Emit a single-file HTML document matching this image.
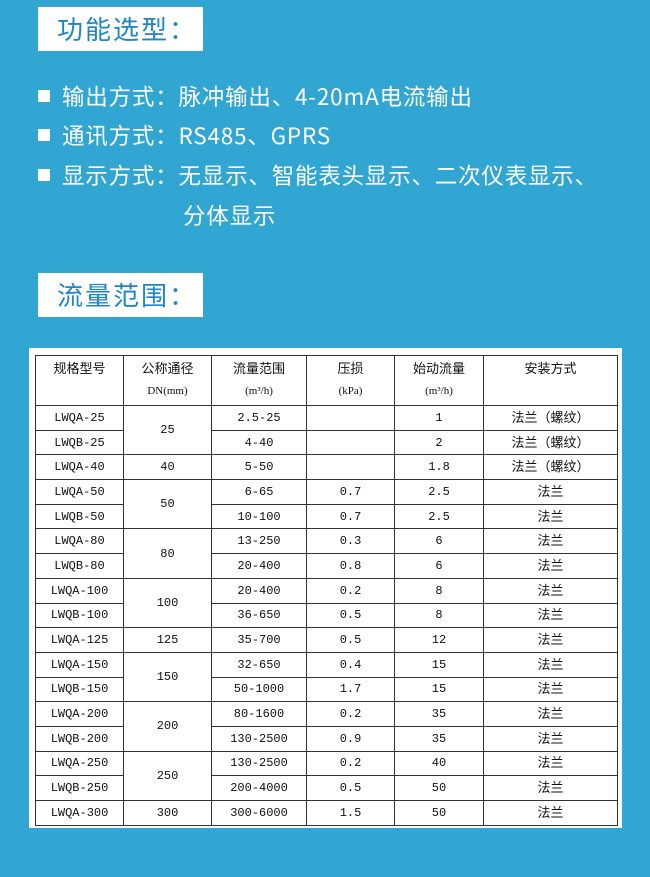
<!DOCTYPE html>
<html><head><meta charset="utf-8"><style>
*{margin:0;padding:0;box-sizing:border-box}
body{width:650px;height:877px;background:#31a6d3;position:relative;overflow:hidden;font-family:"Noto Sans CJK SC","Liberation Sans",sans-serif}
.tt{position:absolute;left:38px;width:165px;height:44px;background:#fff;color:#1c86c6;font-size:26px;line-height:44px;padding-left:19px;letter-spacing:2px}
.li{position:absolute;left:38px;color:#fff;font-size:22.5px;line-height:26px;white-space:nowrap;letter-spacing:0.8px}
.li i{display:inline-block;width:12px;height:12px;background:#fff;margin-right:12px;vertical-align:3px}
.panel{position:absolute;left:29px;top:348px;width:593px;height:480px;background:#fff}
table{position:absolute;left:35px;top:355px;border-collapse:collapse;font-family:"Liberation Mono","Noto Serif CJK SC",serif;font-size:12px;color:#111}
td{border:1.5px solid #333;text-align:center;height:24.7px;padding:0;line-height:14px}
.h td{height:50px;vertical-align:top;padding-top:6px;font-family:"Liberation Sans","Noto Sans CJK SC",sans-serif;font-size:13px}
.h td small{display:block;font-family:"Liberation Serif","Noto Serif CJK SC",serif;font-size:11px;margin-top:8px}
.c{font-family:"Liberation Sans","Noto Sans CJK SC",sans-serif;font-size:13px}
</style></head><body>
<div class="tt" style="top:7px">功能选型：</div>
<div class="li" style="top:83px"><i></i>输出方式：脉冲输出、4-20mA电流输出</div>
<div class="li" style="top:122px"><i></i>通讯方式：RS485、GPRS</div>
<div class="li" style="top:162px"><i></i>显示方式：无显示、智能表头显示、二次仪表显示、</div>
<div class="li" style="top:202px;left:183px">分体显示</div>
<div class="tt" style="top:273px">流量范围：</div>
<div class="panel"></div>
<table>
<colgroup><col style="width:88px"><col style="width:88px"><col style="width:95px"><col style="width:88px"><col style="width:89px"><col style="width:134px"></colgroup>
<tr class="h"><td>规格型号</td><td>公称通径<small>DN(mm)</small></td><td>流量范围<small>(m³/h)</small></td><td>压损<small>(kPa)</small></td><td>始动流量<small>(m³/h)</small></td><td>安装方式</td></tr>
<tr><td>LWQA-25</td><td rowspan="2">25</td><td>2.5-25</td><td></td><td>1</td><td class="c">法兰（螺纹）</td></tr>
<tr><td>LWQB-25</td><td>4-40</td><td></td><td>2</td><td class="c">法兰（螺纹）</td></tr>
<tr><td>LWQA-40</td><td>40</td><td>5-50</td><td></td><td>1.8</td><td class="c">法兰（螺纹）</td></tr>
<tr><td>LWQA-50</td><td rowspan="2">50</td><td>6-65</td><td>0.7</td><td>2.5</td><td class="c">法兰</td></tr>
<tr><td>LWQB-50</td><td>10-100</td><td>0.7</td><td>2.5</td><td class="c">法兰</td></tr>
<tr><td>LWQA-80</td><td rowspan="2">80</td><td>13-250</td><td>0.3</td><td>6</td><td class="c">法兰</td></tr>
<tr><td>LWQB-80</td><td>20-400</td><td>0.8</td><td>6</td><td class="c">法兰</td></tr>
<tr><td>LWQA-100</td><td rowspan="2">100</td><td>20-400</td><td>0.2</td><td>8</td><td class="c">法兰</td></tr>
<tr><td>LWQB-100</td><td>36-650</td><td>0.5</td><td>8</td><td class="c">法兰</td></tr>
<tr><td>LWQA-125</td><td>125</td><td>35-700</td><td>0.5</td><td>12</td><td class="c">法兰</td></tr>
<tr><td>LWQA-150</td><td rowspan="2">150</td><td>32-650</td><td>0.4</td><td>15</td><td class="c">法兰</td></tr>
<tr><td>LWQB-150</td><td>50-1000</td><td>1.7</td><td>15</td><td class="c">法兰</td></tr>
<tr><td>LWQA-200</td><td rowspan="2">200</td><td>80-1600</td><td>0.2</td><td>35</td><td class="c">法兰</td></tr>
<tr><td>LWQB-200</td><td>130-2500</td><td>0.9</td><td>35</td><td class="c">法兰</td></tr>
<tr><td>LWQA-250</td><td rowspan="2">250</td><td>130-2500</td><td>0.2</td><td>40</td><td class="c">法兰</td></tr>
<tr><td>LWQB-250</td><td>200-4000</td><td>0.5</td><td>50</td><td class="c">法兰</td></tr>
<tr><td>LWQA-300</td><td>300</td><td>300-6000</td><td>1.5</td><td>50</td><td class="c">法兰</td></tr>
</table>
</body></html>
